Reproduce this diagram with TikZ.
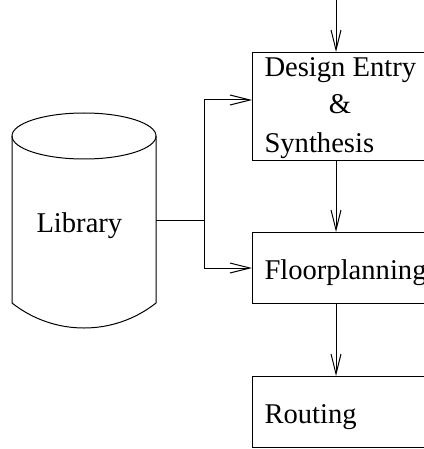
\documentclass[tikz,border=0pt]{standalone}
\usepackage{fontspec}
\setmainfont{Liberation Serif}
\usetikzlibrary{arrows.meta}

\begin{document}
\begin{tikzpicture}[x=1pt,y=1pt,line width=1pt,
    stage/.style={draw,minimum width=260pt,inner sep=0pt,anchor=north west},
    lbl/.style={inner sep=0pt,font=\fontsize{28.6}{34}\selectfont},
    flow/.style={-{Straight Barb[length=20pt,width=10pt]}}]
    \useasboundingbox (0,0) rectangle (423,-449);
    % the library
    \draw (84,-136) ellipse [x radius=72, y radius=23];
    \draw (12,-136) -- (12,-303) arc [start angle=231.7, end angle=308.3, radius=116.2] -- (156,-136);
    \node [lbl,anchor=base west] (lib) at (36,-232) {Library};
    \coordinate (libout) at (156,-220);
    \coordinate (split) at (204,-220);
    % the stages
    \node [stage,minimum height=108pt] (entry) at (252,-52) {};
    \node [stage,minimum height=71pt] (floor) at (252,-232) {};
    \node [stage,minimum height=71pt] (route) at (252,-376) {};
    \node [lbl,anchor=base west] (t1) at (264,-77) {Design Entry};
    \node [lbl,anchor=base] (t2) at (340,-114) {\&};
    \node [lbl,anchor=base west] (t3) at (264,-153) {Synthesis};
    \node [lbl,anchor=base west] (t4) at (264,-279) {Floorplanning};
    \node [lbl,anchor=base west] (t5) at (264,-423) {Routing};
    \coordinate (top) at (336,0);
    \coordinate (entryin) at (252,-100);
    % connectors
    \draw [flow] (top) -- (top |- entry.north);
    \draw [flow] (top |- entry.south) -- (top |- floor.north);
    \draw [flow] (top |- floor.south) -- (top |- route.north);
    \draw (libout) -- (split);
    \draw [flow] (split) |- (entryin);
    \draw [flow] (split) |- (floor.west);
\end{tikzpicture}
\end{document}
